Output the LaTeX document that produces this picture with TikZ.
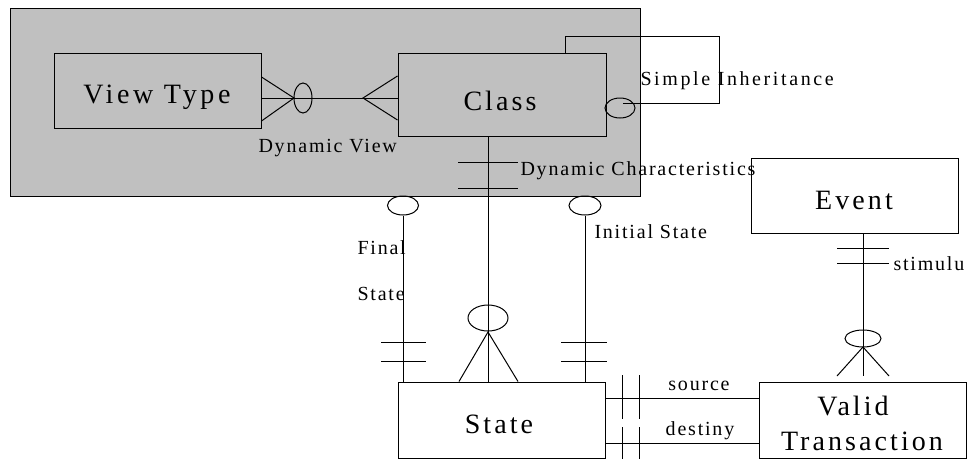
\documentclass[tikz,border=0pt]{standalone}
\usepackage{fontspec}
\usetikzlibrary{shapes.geometric}
\setmainfont{Liberation Serif}[LetterSpace=9]
\newfontfamily\bigf{Liberation Serif}[LetterSpace=11]
\newfontfamily\widef{Liberation Serif}[LetterSpace=13]
\definecolor{grayfill}{HTML}{C0C0C0}
\begin{document}
\begin{tikzpicture}[x=1pt,y=-1pt,line width=1pt,
  ent/.style={draw=black,rectangle,inner sep=0pt},
  bigl/.style={inner sep=0pt,anchor=base,font=\bigf\fontsize{28}{30}\selectfont},
  smll/.style={inner sep=0pt,font=\fontsize{20}{22}\selectfont},
  opt/.style={draw=black,ellipse,inner sep=0pt}]
\useasboundingbox (0,0) rectangle (967,459);
% group box
\node[ent,fill=grayfill,minimum width=630pt,minimum height=188pt] (grp) at (325,102) {};
% entity boxes
\node[ent,minimum width=207pt,minimum height=75pt] (vt) at (157.5,90.5) {};
\node[ent,minimum width=208pt,minimum height=83pt] (cls) at (502,94.5) {};
\node[ent,minimum width=207pt,minimum height=76pt] (st) at (501.5,420) {};
\node[ent,minimum width=207pt,minimum height=75pt] (ev) at (854.5,195.5) {};
\node[ent,minimum width=207pt,minimum height=76pt] (vtr) at (862.5,420) {};
% labels
\node[bigl,font=\widef\fontsize{28}{30}\selectfont] (lvt) at (157,103) {View Type};
\node[bigl] (lcls) at (500,110) {Class};
\node[bigl] (lst) at (499,433) {State};
\node[bigl] (lev) at (854,209) {Event};
\node[bigl] (lv1) at (853,415) {Valid};
\node[bigl] (lv2) at (862,450) {Transaction};
\node[smll,anchor=base west] (ldv) at (258,152) {Dynamic View};
\node[smll,anchor=base west,font=\widef\fontsize{20}{22}\selectfont] (lsi) at (640,85) {Simple Inheritance};
\node[smll,anchor=base west] (ldc) at (520,175) {Dynamic Characteristics};
\node[smll,anchor=base west] (lfs1) at (357,254) {Final};
\node[smll,anchor=base west] (lfs2) at (357,300) {State};
\node[smll,anchor=base west] (lis) at (594,238) {Initial State};
\node[smll,anchor=base west] (lstim) at (893,270) {stimulu};
\node[smll,anchor=base] (lsrc) at (699,390) {source};
\node[smll,anchor=base] (ldst) at (700,435) {destiny};
% Dynamic View: View Type -- Class
\coordinate (dvy) at (0,98);
\draw (vt.east |- dvy) -- (cls.west |- dvy);
\draw (vt.east |- 0,77) -- (294,98) -- (vt.east |- 0,121);
\node[opt,minimum width=18pt,minimum height=30pt] (e1) at (303,98) {};
\draw (cls.west |- 0,76) -- (363,98) -- (cls.west |- 0,120);
% Simple inheritance loop
\node[opt,minimum width=30pt,minimum height=20pt] (e2) at (620,108) {};
\draw (cls.north -| 565,0) -- (565,36) -- (719,36) -- (719,103) -- (623,103);
% Dynamic characteristics: Class -- State
\draw (cls.south -| 488,0) -- (st.north -| 488,0);
\draw (458,162) -- (518,162);
\draw (458,188) -- (518,188);
\node[opt,minimum width=40pt,minimum height=26pt] (e3) at (488,318) {};
\draw (st.north -| 459,0) -- (488,332) -- (st.north -| 518,0);
% Final state
\node[opt,minimum width=31pt,minimum height=19pt] (e4) at (403,205.5) {};
\draw (e4.south) -- (st.north -| e4.south);
\draw (381,342) -- (426,342);
\draw (381,361) -- (426,361);
% Initial state
\node[opt,minimum width=32pt,minimum height=19pt] (e5) at (585,205.5) {};
\draw (e5.south) -- (st.north -| e5.south);
\draw (561,342) -- (607,342);
\draw (561,361) -- (607,361);
% stimulus: Event -- Valid Transaction
\coordinate (ft) at (863,376);
\draw (ev.south -| ft) -- (ft);
\draw (837,248) -- (889,248);
\draw (837,263) -- (889,263);
\node[opt,minimum width=36pt,minimum height=17pt] (e6) at (863,338.5) {};
\draw (837,376) -- (863,347) -- (889,376);
% source / destiny
\draw (st.east |- 0,398) -- (vtr.west |- 0,398);
\draw (st.east |- 0,443) -- (vtr.west |- 0,443);
\draw (622,375) -- (622,419);
\draw (639,375) -- (639,419);
\draw (622,427) -- (622,459);
\draw (639,427) -- (639,459);
\end{tikzpicture}
\end{document}
